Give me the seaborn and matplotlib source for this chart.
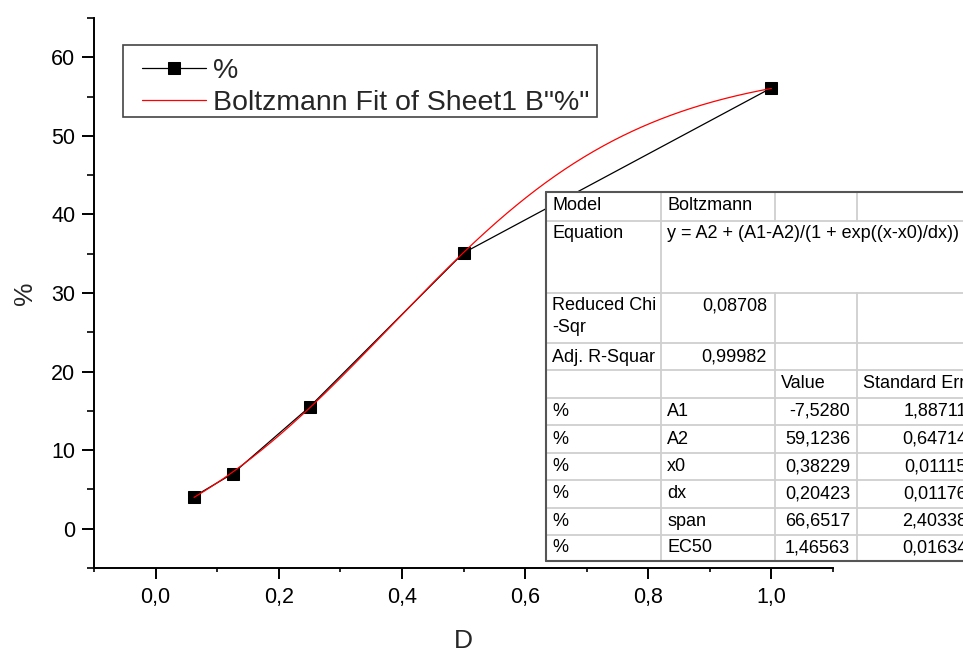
import numpy as np
import pandas as pd
import matplotlib
matplotlib.use("Agg")
import matplotlib.pyplot as plt
from matplotlib.ticker import FixedLocator, FuncFormatter
from matplotlib.lines import Line2D
from matplotlib.patches import Rectangle
import seaborn as sns

# Measured data
dose = [0.0625, 0.125, 0.25, 0.5, 1.0]
percent = [4.1, 7.0, 15.5, 35.1, 56.1]

# Boltzmann fit parameters
A1, A2, x0, dx = -7.5280, 59.1236, 0.38229, 0.20423

# Fit report table
param_names = ["A1", "A2", "x0", "dx", "span", "EC50"]
param_values = ["-7,5280", "59,1236", "0,38229", "0,20423", "66,6517", "1,46563"]
param_errors = ["1,88711", "0,64714", "0,01115", "0,01176", "2,40338", "0,01634"]
reduced_chi = "0,08708"
adj_r2 = "0,99982"

x_major = [0.0, 0.2, 0.4, 0.6, 0.8, 1.0]
x_minor = [-0.1, 0.1, 0.3, 0.5, 0.7, 0.9, 1.1]
y_major = [0, 10, 20, 30, 40, 50, 60]
y_minor = [-5, 5, 15, 25, 35, 45, 55, 65]

W, H = 963, 651

sns.set_style("ticks")
plt.rcParams["font.family"] = ["Liberation Sans", "DejaVu Sans"]

fig = plt.figure(figsize=(W / 100, H / 100), dpi=100)
ax = fig.add_axes([94 / W, 1 - 568 / H, (833 - 94) / W, (568 - 18) / H])

df = pd.DataFrame({"D": dose, "%": percent})
xfit = np.linspace(min(dose), max(dose), 300)
yfit = A2 + (A1 - A2) / (1 + np.exp((xfit - x0) / dx))
fit_df = pd.DataFrame({"D": xfit, "%": yfit})

sns.lineplot(data=df, x="D", y="%", ax=ax, color="black", lw=0.9,
             marker="s", markersize=8.6, markeredgecolor="black",
             markerfacecolor="black", label="%", zorder=2)
sns.lineplot(data=fit_df, x="D", y="%", ax=ax, color="red", lw=0.9,
             label='Boltzmann Fit of Sheet1 B"%"', zorder=3)

ax.set_xlim(-0.1, 1.1)
ax.set_ylim(-5, 65)
ax.xaxis.set_major_locator(FixedLocator(x_major))
ax.xaxis.set_minor_locator(FixedLocator(x_minor))
ax.yaxis.set_major_locator(FixedLocator(y_major))
ax.yaxis.set_minor_locator(FixedLocator(y_minor))
ax.xaxis.set_major_formatter(FuncFormatter(lambda v, p: f"{v:.1f}".replace(".", ",").replace("-0,0", "0,0")))
ax.yaxis.set_major_formatter(FuncFormatter(lambda v, p: f"{v:.0f}"))

for s in ("top", "right"):
    ax.spines[s].set_visible(False)
for s in ("left", "bottom"):
    ax.spines[s].set_linewidth(1.4)
    ax.spines[s].set_color("black")

ax.tick_params(axis="both", which="major", direction="out", width=1.4,
               labelsize=15.5, color="black", labelcolor="black")
ax.tick_params(axis="x", which="major", length=7.7, pad=6)
ax.tick_params(axis="x", which="minor", length=3.2, width=1.4)
ax.tick_params(axis="y", which="major", length=8.5, pad=5)
ax.tick_params(axis="y", which="minor", length=4.8, width=1.4)

ax.set_xlabel("D", fontsize=19, labelpad=15)
ax.set_ylabel("%", fontsize=19, labelpad=10)

# Legend without its own frame; the frame is drawn as a separate box
leg = ax.legend(loc="upper left",
                bbox_to_anchor=((142 - 94) / (833 - 94), 1 - (58 - 18) / (568 - 18)),
                fontsize=20.5, frameon=False, handlelength=2.25,
                handletextpad=0.25, borderpad=0, labelspacing=0.2,
                borderaxespad=0)
for h in leg.legend_handles:
    h.set_linewidth(0.9)


def fx(x):
    return x / W


def fy(y):
    return 1 - y / H


fig.add_artist(Rectangle((fx(123), fy(117)), fx(597) - fx(123), fy(45) - fy(117),
                         transform=fig.transFigure, facecolor="none",
                         edgecolor="#444444", lw=1.2, zorder=5))

# Fit report table, in pixel coordinates of the figure
cols = [546, 661, 775, 857, 985]
rows = [192, 221, 293, 343, 370, 398, 425, 453, 480, 508, 535, 561]

fig.add_artist(Rectangle((fx(cols[0]), fy(rows[-1])), fx(cols[-1]) - fx(cols[0]),
                         fy(rows[0]) - fy(rows[-1]), transform=fig.transFigure,
                         facecolor="white", edgecolor="none", zorder=10))

grid_kw = dict(color="#cfcfcf", lw=1.3, transform=fig.transFigure, zorder=11)
for r in rows[1:-1]:
    fig.add_artist(Line2D([fx(cols[0]), fx(cols[-1])], [fy(r), fy(r)], **grid_kw))
fig.add_artist(Line2D([fx(cols[1]), fx(cols[1])], [fy(rows[0]), fy(rows[-1])], **grid_kw))
for c in cols[2:4]:
    fig.add_artist(Line2D([fx(c), fx(c)], [fy(rows[0]), fy(rows[1])], **grid_kw))
    fig.add_artist(Line2D([fx(c), fx(c)], [fy(rows[2]), fy(rows[-1])], **grid_kw))

border_kw = dict(color="#555555", lw=1.5, transform=fig.transFigure, zorder=12)
fig.add_artist(Line2D([fx(cols[0]), fx(cols[-1])], [fy(rows[0]), fy(rows[0])], **border_kw))
fig.add_artist(Line2D([fx(cols[0]), fx(cols[-1])], [fy(rows[-1]), fy(rows[-1])], **border_kw))
fig.add_artist(Line2D([fx(cols[0]), fx(cols[0])], [fy(rows[0]), fy(rows[-1])], **border_kw))

tkw = dict(fontsize=13, color="black", zorder=13)


def cell(text, x, y, ha="left"):
    fig.text(fx(x), fy(y), text, ha=ha, va="center", **tkw)


pad = 6
cell("Model", cols[0] + pad, rows[0] + 14)
cell("Boltzmann", cols[1] + pad, rows[0] + 14)
cell("Equation", cols[0] + pad, rows[1] + 13)
cell("y = A2 + (A1-A2)/(1 + exp((x-x0)/dx))", cols[1] + pad, rows[1] + 13)
cell("Reduced Chi", cols[0] + pad, rows[2] + 13)
cell("-Sqr", cols[0] + pad, rows[2] + 34)
cell(reduced_chi, cols[2] - 8, rows[2] + 13, ha="right")
cell("Adj. R-Squar", cols[0] + pad, rows[3] + 14)
cell(adj_r2, cols[2] - 8, rows[3] + 14, ha="right")
cell("Value", cols[2] + pad, rows[4] + 14)
cell("Standard Error", cols[3] + pad, rows[4] + 14)
for i, (n, v, e) in enumerate(zip(param_names, param_values, param_errors)):
    yc = (rows[5 + i] + rows[6 + i]) / 2
    cell("%", cols[0] + pad, yc)
    cell(n, cols[1] + pad, yc)
    cell(v, cols[3] - 7, yc, ha="right")
    cell(e, 967, yc, ha="right")

fig.savefig("out.png", dpi=100)
